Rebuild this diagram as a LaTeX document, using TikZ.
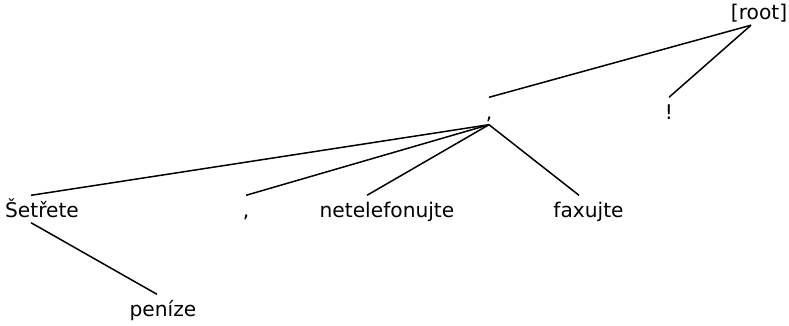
\documentclass[tikz,border=0pt]{standalone}
\usepackage{fontspec}
\setmainfont{DejaVu Sans}
\begin{document}
\begin{tikzpicture}[x=1pt,y=-1pt,
  word/.style={font=\fontsize{20.2}{24}\selectfont, text height=16pt, text depth=0pt,
               inner xsep=0pt, inner ysep=5.5pt, anchor=base},
  edge/.style={draw=black, line width=1.5pt}]
  \useasboundingbox (0,0) rectangle (789,325);
  % words, placed on their baselines
  \node[word] (root)  at (759,19.5) {[root]};
  \node[word] (comma) at (489,119) {,};
  \node[word] (bang)  at (669,119) {!};
  \node[word] (setr)  at (42,217) {Šetřete};
  \node[word] (comb)  at (246,217) {,};
  \node[word] (netel) at (387,217) {netelefonujte};
  \node[word] (fax)   at (588.5,217) {faxujte};
  \node[word] (pen)   at (163,316) {peníze};
  % dependency edges
  \draw[edge] ([xshift=-8pt]root.south) -- (comma.north);
  \draw[edge] ([xshift=-8pt]root.south) -- (bang.north);
  \draw[edge] (comma.south) -- ([xshift=-11pt]setr.north);
  \draw[edge] (comma.south) -- (comb.north);
  \draw[edge] (comma.south) -- ([xshift=-20pt]netel.north);
  \draw[edge] (comma.south) -- ([xshift=-9.5pt]fax.north);
  \draw[edge] ([xshift=-11pt]setr.south) -- ([xshift=-6pt]pen.north);
\end{tikzpicture}
\end{document}
